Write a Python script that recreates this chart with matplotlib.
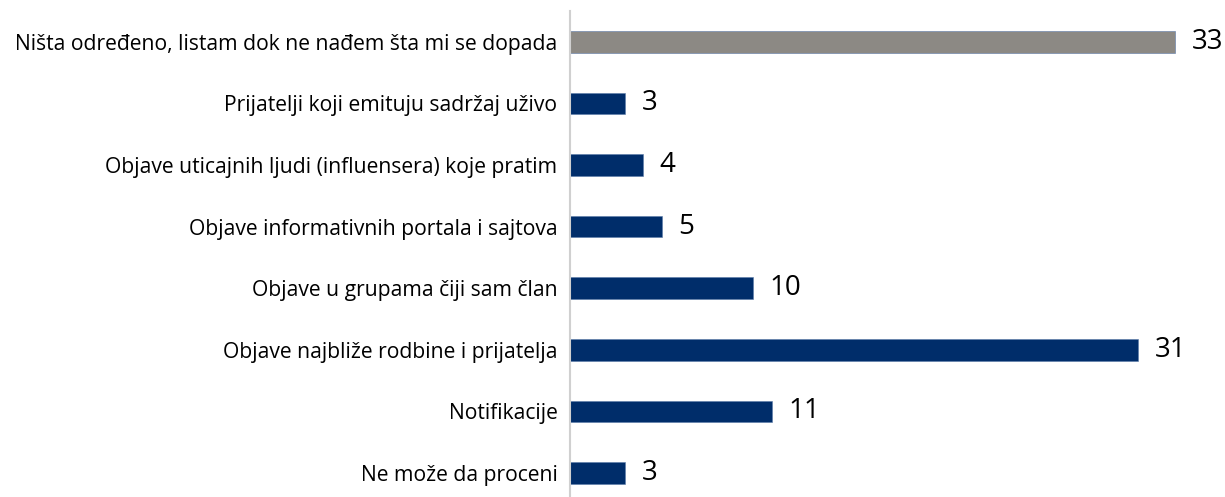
import matplotlib.pyplot as plt

categories = [
    "Ništa određeno, listam dok ne nađem šta mi se dopada",
    "Prijatelji koji emituju sadržaj uživo",
    "Objave uticajnih ljudi (influensera) koje pratim",
    "Objave informativnih portala i sajtova",
    "Objave u grupama čiji sam član",
    "Objave najbliže rodbine i prijatelja",
    "Notifikacije",
    "Ne može da proceni",
]
values = [33, 3, 4, 5, 10, 31, 11, 3]
colors = ["#8C8984"] + ["#002D6A"] * 7

W, H = 1225, 497
fig = plt.figure(figsize=(W / 100, H / 100), dpi=100)
ax = fig.add_axes([570 / W, 0, 1 - 570 / W, (497 - 11) / H])

y = list(range(len(categories)))
ax.barh(y, values, height=0.35, color=colors, edgecolor="#5B7BA8", linewidth=0.4)
ax.set_xlim(0, 35.73)
ax.set_ylim(7.39, -0.5)

for yi, v in zip(y, values):
    ax.text(v + 0.9, yi, str(v), va="center", ha="left",
            fontsize=20, family="Open Sans", color="#000000")

ax.set_yticks(y)
ax.set_yticklabels(categories, fontsize=15.2, family="Open Sans")
ax.tick_params(axis="y", length=0, pad=9)
ax.set_xticks([])
for s in ["top", "right", "bottom"]:
    ax.spines[s].set_visible(False)
ax.spines["left"].set_color("#D0D0D0")
ax.spines["left"].set_linewidth(1.5)

fig.savefig("out.png", dpi=100)
